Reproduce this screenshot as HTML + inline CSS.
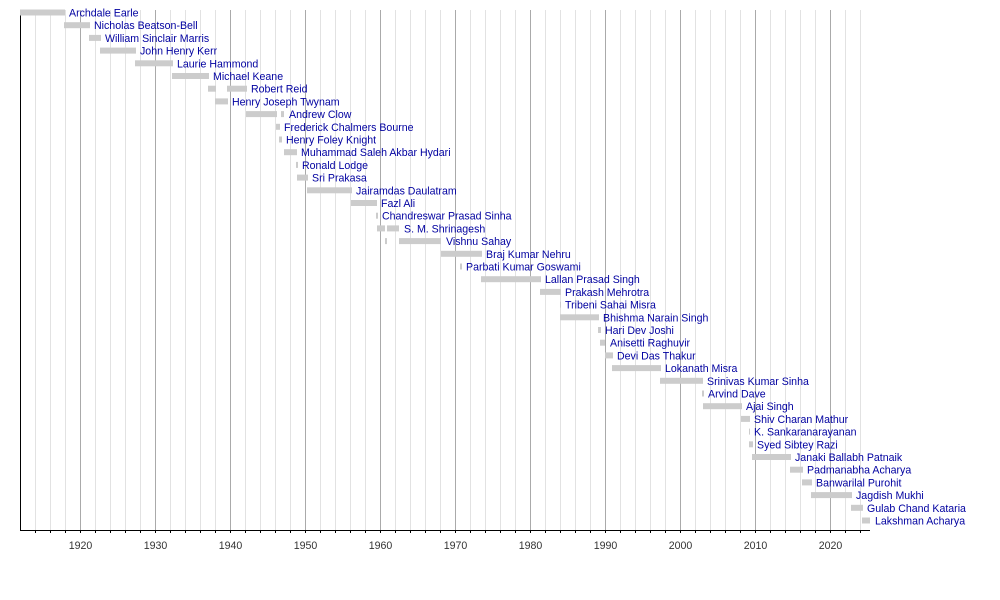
<!DOCTYPE html>
<html><head><meta charset="utf-8"><style>body{margin:0;background:#fff}svg{display:block}</style></head>
<body>
<svg id="s" width="1000" height="600" xmlns="http://www.w3.org/2000/svg" font-family="Liberation Sans, sans-serif"></svg>
<script>
const s=document.getElementById('s');let h='';
const X=y=>80+(y-1920)*7.5;
for(let y=1914;y<=2024;y+=2){const x=X(y)+0.5;const maj=y%10==0;
h+=`<line x1="${x}" y1="10" x2="${x}" y2="530" stroke="${maj?'#aaa':'#e2e2e2'}" stroke-width="1"/>`;
h+=`<line x1="${x}" y1="530" x2="${x}" y2="533" stroke="#000"/>`;
if(maj)h+=`<text x="${x}" y="549" font-size="10.6" fill="#333" text-anchor="middle">${y}</text>`;}
h+=`<line x1="20.5" y1="10" x2="20.5" y2="530.5" stroke="#000"/><line x1="20" y1="530.5" x2="870" y2="530.5" stroke="#000"/>`;
const d=[
["Archdale Earle",[[20,65]],69],["Nicholas Beatson-Bell",[[64,90]],94],["William Sinclair Marris",[[89,101]],105],
["John Henry Kerr",[[100,136]],140],["Laurie Hammond",[[135,173]],177],["Michael Keane",[[172,209]],213],
["Robert Reid",[[208,216],[227,247]],251],["Henry Joseph Twynam",[[215,228]],232],["Andrew Clow",[[246,277],[281,284]],289],
["Frederick Chalmers Bourne",[[276,280]],284],["Henry Foley Knight",[[279,282]],286],["Muhammad Saleh Akbar Hydari",[[284,297]],301],
["Ronald Lodge",[[296,298]],302],["Sri Prakasa",[[297,308]],312],["Jairamdas Daulatram",[[307,352]],356],
["Fazl Ali",[[351,377]],381],["Chandreswar Prasad Sinha",[[376,378]],382],["S. M. Shrinagesh",[[377,385],[387,399]],404],
["Vishnu Sahay",[[385,387],[399,441]],446],["Braj Kumar Nehru",[[441,482]],486],["Parbati Kumar Goswami",[[460,462]],466],
["Lallan Prasad Singh",[[481,541]],545],["Prakash Mehrotra",[[540,561]],565],["Tribeni Sahai Misra",[[560,561]],565],
["Bhishma Narain Singh",[[560,599]],603],["Hari Dev Joshi",[[598,601]],605],["Anisetti Raghuvir",[[600,605]],610],
["Devi Das Thakur",[[605,613]],617],["Lokanath Misra",[[612,661]],665],["Srinivas Kumar Sinha",[[660,703]],707],
["Arvind Dave",[[702,704]],708],["Ajai Singh",[[703,742]],746],["Shiv Charan Mathur",[[741,750]],754],
["K. Sankaranarayanan",[[749,750]],754],["Syed Sibtey Razi",[[749,753]],757],["Janaki Ballabh Patnaik",[[752,791]],795],
["Padmanabha Acharya",[[790,803]],807],["Banwarilal Purohit",[[802,812]],816],["Jagdish Mukhi",[[811,852]],856],
["Gulab Chand Kataria",[[851,863]],867],["Lakshman Acharya",[[862,870]],875]];
d.forEach((r,i)=>{const c=12.7*i+12.5;
r[1].forEach(b=>h+=`<rect x="${b[0]}" y="${c-3}" width="${b[1]-b[0]}" height="6" fill="#ccc"/>`);
h+=`<text x="${r[2]}" y="${c+4}" font-size="10.6" fill="#0000a0">${r[0]}</text>`;});
s.innerHTML=h;
</script>
</body></html>
